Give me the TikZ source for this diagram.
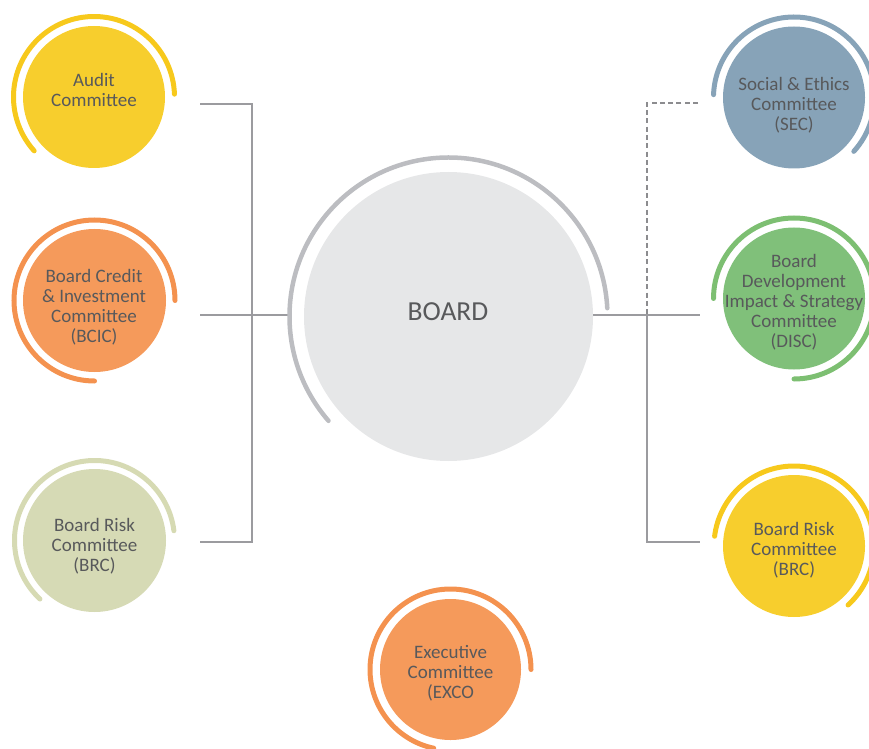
\documentclass[tikz,border=0pt]{standalone}
\usepackage{fontspec}
\setmainfont{Carlito}
\definecolor{txt}{HTML}{58595B}
\definecolor{yel}{HTML}{F7CE2D}
\definecolor{yelarc}{HTML}{F7C91C}
\definecolor{ora}{HTML}{F59A5B}
\definecolor{oraarc}{HTML}{F4924F}
\definecolor{sage}{HTML}{D6DAB5}
\definecolor{sagearc}{HTML}{D6DAB3}
\definecolor{brd}{HTML}{E6E7E8}
\definecolor{brdarc}{HTML}{BCBDC1}
\definecolor{blu}{HTML}{87A3B8}
\definecolor{grn}{HTML}{80C07A}
\definecolor{grnarc}{HTML}{7DBF72}
\definecolor{conn}{HTML}{9B9B9F}
\definecolor{dconn}{HTML}{8C8C8F}
\tikzset{
  disk/.style={circle, draw=none, inner sep=0pt, minimum size=#1},
  ring/.style={line width=5pt, line cap=round},
  lbl/.style={align=center, text=txt, inner sep=0pt, font=\fontsize{19}{20}\selectfont},
  connline/.style={draw=conn, line width=1.6pt},
  dashline/.style={draw=dconn, line width=2.8pt, dash pattern=on 5pt off 3.3pt}
}
\begin{document}
\begin{tikzpicture}[x=1pt,y=1pt]
\useasboundingbox (0,0) rectangle (869,748);
\clip (0,0) rectangle (869,748);
% connector coordinates
\coordinate (ae) at (200,644);
\coordinate (lb) at (252,206);
\coordinate (le) at (200,206);
\coordinate (ce) at (200,433);
\coordinate (bw) at (289,433);
\coordinate (bo) at (593,433);
\coordinate (de) at (700,433);
\coordinate (rj) at (647,433);
\coordinate (rb) at (647,206);
\coordinate (re) at (700,206);
\coordinate (se) at (698,645);
% connectors
\draw[connline] (ae) -| (lb) -- (le);
\draw[connline] (ce) -- (bw);
\draw[connline] (bo) -- (de);
\draw[connline] (rj) -- (rb) -- (re);
\draw[dashline] (se) -| (rj);
% circles
\node[disk=142pt, fill=yel] (audit) at (94,651) {};
\node[disk=143pt, fill=ora] (bcic) at (94.5,447.5) {};
\node[disk=143pt, fill=sage] (brcl) at (94.5,207.5) {};
\node[disk=289pt, fill=brd] (board) at (448.5,431.5) {};
\node[disk=142pt, fill=blu] (sec) at (794,650.5) {};
\node[disk=142pt, fill=grn] (disc) at (794,449.5) {};
\node[disk=142pt, fill=yel] (brcr) at (794,202) {};
\node[disk=141pt, fill=ora] (exco) at (450.5,78.5) {};
% arcs
\draw[ring, yelarc] ([shift={(2:80.5)}]audit.center) arc[start angle=2, end angle=222, radius=80.5];
\draw[ring, oraarc] ([shift={(0:80.5)}]bcic.center) arc[start angle=0, end angle=270, radius=80.5];
\draw[ring, sagearc] ([shift={(7:80)}]brcl.center) arc[start angle=7, end angle=227, radius=80];
\draw[line width=4.5pt, line cap=round, brdarc] ([shift={(3:159)}]board.center) arc[start angle=3, end angle=221, radius=159];
\draw[ring, blu] ([shift={(-42:80.5)}]sec.center) arc[start angle=-42, end angle=178, radius=80.5];
\draw[ring, grnarc] ([shift={(-90:80.5)}]disc.center) arc[start angle=-90, end angle=180, radius=80.5];
\draw[ring, yelarc] ([shift={(-47.5:80)}]brcr.center) arc[start angle=-47.5, end angle=173, radius=80];
\draw[ring, oraarc] ([shift={(0:80.5)}]exco.center) arc[start angle=0, end angle=258, radius=80.5];
% labels
\node[lbl] (audit-t) at (94,658.5) {Audit\\Committee};
\node[lbl] (bcic-t) at (94,440.5) {Board Credit\\\& Investment\\Committee\\(BCIC)};
\node[lbl] (brcl-t) at (94.5,201.5) {Board Risk\\Committee\\(BRC)};
\node[text=txt, inner sep=0pt, font=\fontsize{27.5}{30}\selectfont] (board-t) at (448,436.5) {BOARD};
\node[lbl] (sec-t) at (794,642.5) {Social \& Ethics\\Committee\\(SEC)};
\node[lbl] (disc-t) at (794,445.5) {Board\\Development\\Impact \& Strategy\\Committee\\(DISC)};
\node[lbl] (brcr-t) at (794,197.5) {Board Risk\\Committee\\(BRC)};
\node[lbl] (exco-t) at (450.5,74.5) {Executive\\Committee\\(EXCO};
\end{tikzpicture}
\end{document}
